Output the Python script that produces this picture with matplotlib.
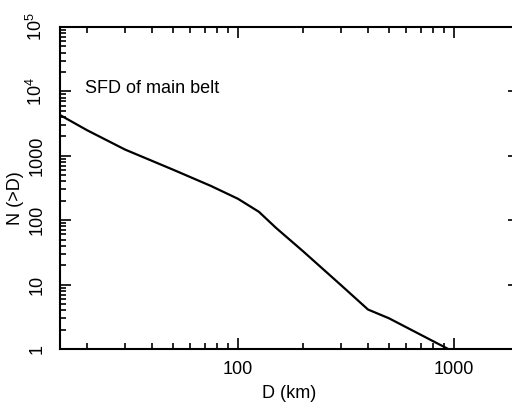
import matplotlib
matplotlib.use('Agg')
import matplotlib.pyplot as plt
import matplotlib.ticker as ticker

plt.rcParams['font.family'] = ['Liberation Sans', 'DejaVu Sans']
plt.rcParams['mathtext.fontset'] = 'custom'
plt.rcParams['mathtext.rm'] = 'Liberation Sans'

# size-frequency distribution
diam = [15, 20, 30, 50, 75, 100, 125, 150, 200, 300, 400, 500, 940]
n_cum = [4300, 2500, 1250, 610, 340, 215, 135, 76, 33, 9.8, 4.1, 3.0, 1.0]

y_ticks = [1, 10, 100, 1000, 1e4, 1e5]
y_labels = ['1', '10', '100', '1000', r'$10^4$', r'$10^5$']
x_ticks = [100, 1000]
x_labels = ['100', '1000']

fig = plt.figure(figsize=(5.12, 4.04), dpi=100)
ax = fig.add_axes([60/512, 55/404, 459/512, 322/404])

ax.plot(diam, n_cum, 'k-', lw=1.6)
ax.set_xscale('log')
ax.set_yscale('log')
ax.set_xlim(15, 2000)
ax.set_ylim(1, 1e5)

ax.xaxis.set_major_locator(ticker.FixedLocator(x_ticks))
ax.xaxis.set_major_formatter(ticker.FixedFormatter(x_labels))
ax.xaxis.set_minor_locator(ticker.LogLocator(base=10, subs=range(2, 10)))
ax.xaxis.set_minor_formatter(ticker.NullFormatter())
ax.yaxis.set_major_locator(ticker.FixedLocator(y_ticks))
ax.yaxis.set_major_formatter(ticker.FixedFormatter(y_labels))
ax.yaxis.set_minor_locator(ticker.LogLocator(base=10, subs=range(2, 10)))
ax.yaxis.set_minor_formatter(ticker.NullFormatter())

ax.tick_params(which='both', direction='in', top=True, right=True, width=1.2)
ax.tick_params(which='major', length=8, labelsize=13)
ax.tick_params(axis='x', which='major', pad=9)
ax.tick_params(axis='y', which='major', pad=10)
ax.tick_params(which='minor', length=4)
for lab in ax.get_yticklabels():
    lab.set_rotation(90)
    lab.set_va('center')
for sp in ax.spines.values():
    sp.set_linewidth(1.5)

ax.set_xlabel('D (km)', fontsize=13)
ax.xaxis.set_label_coords(0.5, -0.113)
ax.set_ylabel('N (>D)', fontsize=13)
ax.yaxis.set_label_coords(-0.078, 0.47)
ax.text(19.5, 9300, 'SFD of main belt', fontsize=13)

fig.savefig('out.png', dpi=100)
